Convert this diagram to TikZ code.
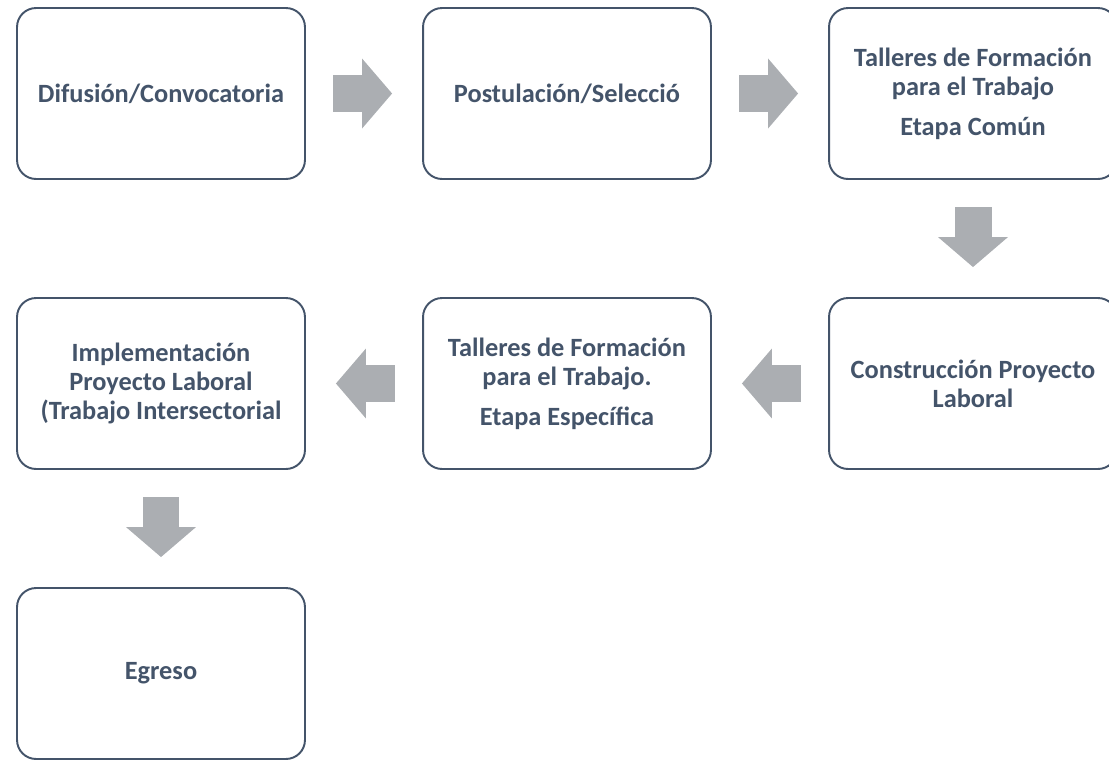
\documentclass[tikz,border=0pt]{standalone}
\usepackage{fontspec}
\setmainfont{Carlito}
\usetikzlibrary{positioning, calc, arrows.meta}
\definecolor{cslate}{HTML}{44546A}
\definecolor{carrow}{HTML}{ABAEB2}
\tikzset{
  every picture/.style={font=\bfseries, line width=1.1pt},
  stage/.style={draw=cslate, fill=white, text=cslate, rounded corners=0.38cm, align=center,
                minimum width=5.76cm, minimum height=3.42cm, inner sep=4pt, font=\fontsize{15}{16.6}\selectfont\bfseries},
  flow/.style={draw=carrow, line width=0.74cm, -{Triangle[length=0.6cm, width=1.4cm, line width=0pt]},
               shorten <=0.55cm, shorten >=0.6cm},
}

\begin{document}
\begin{tikzpicture}[x=0.02cm, y=-0.02cm]
  \path[use as bounding box, clip] (0,0) rectangle (1109,761);
  \node[stage] (dif) at (161,93.5) {Difusión/Convocatoria};
  \node[stage] (pos) at (567,93.5) {Postulación/Selecció};
  \node[stage] (tcom) at (973,93.5) {Talleres de Formación\\para el Trabajo\\[6pt]Etapa Común};
  \node[stage] (cons) at (973,383.5) {Construcción Proyecto\\Laboral};
  \node[stage] (tesp) at (567,383.5) {Talleres de Formación\\para el Trabajo.\\[6pt]Etapa Específica};
  \node[stage] (impl) at (161,383.5) {Implementación\\Proyecto Laboral\\(Trabajo Intersectorial};
  \node[stage] (egr) at (161,673.5) {Egreso};
  % block arrows between the stages
  \draw[flow] (dif) -- (pos);
  \draw[flow] (pos) -- (tcom);
  \draw[flow] (tcom) -- (cons);
  \draw[flow] (cons) -- (tesp);
  \draw[flow] (tesp) -- (impl);
  \draw[flow] (impl) -- (egr);
\end{tikzpicture}
\end{document}
